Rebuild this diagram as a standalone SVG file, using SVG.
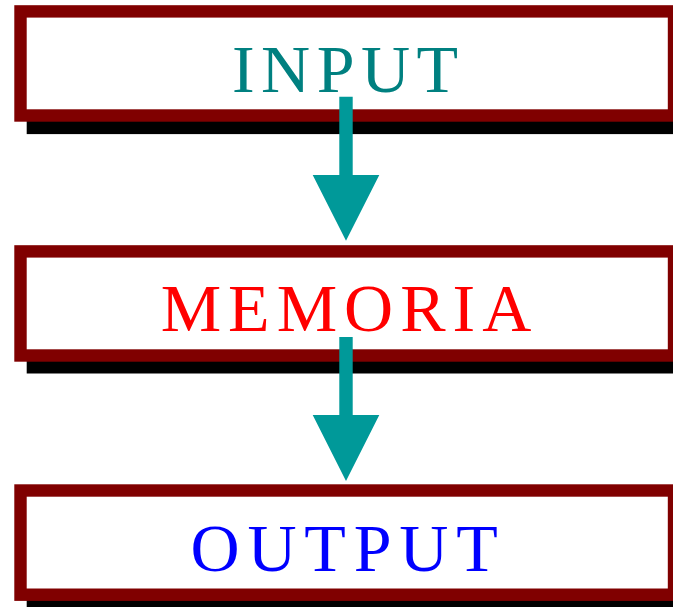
<svg xmlns="http://www.w3.org/2000/svg" width="673" height="607" viewBox="0 0 673 607">
<style>
.shadow{fill:#000000}
.box{fill:#ffffff;stroke:#800000;stroke-width:12.4}
.lbl{font-family:"Liberation Serif","Times New Roman",serif;font-size:68px;text-anchor:middle}
.arrow{fill:#009999}
</style>
<rect width="673" height="607" fill="#ffffff"/>
<g id="node-input">
<rect class="shadow" x="26.7" y="17.4" width="660" height="116.7"/>
<rect class="box" x="20.5" y="11.4" width="653.5" height="104.1"/>
<text class="lbl" x="348.3" y="91.7" fill="#008080" letter-spacing="6.5">INPUT</text>
</g>
<g id="node-memoria">
<rect class="shadow" x="26.7" y="257" width="660" height="116.5"/>
<rect class="box" x="20.5" y="251.4" width="653.5" height="104.1"/>
<text class="lbl" x="349.5" y="330.7" fill="#ff0000" letter-spacing="7">MEMORIA</text>
</g>
<g id="node-output">
<rect class="shadow" x="26.7" y="496.7" width="660" height="116.5"/>
<rect class="box" x="20.5" y="490.5" width="653.5" height="104.2"/>
<text class="lbl" x="348" y="570.7" fill="#0000ff" letter-spacing="7.8">OUTPUT</text>
</g>
<g id="connectors">
<polygon class="arrow" points="339.3,96.7 352.7,96.7 352.7,175 379.3,175 346,240.7 312.7,175 339.3,175"/>
<polygon class="arrow" points="339.3,337 352.7,337 352.7,415 379.3,415 346,481 312.7,415 339.3,415"/>
</g>
</svg>
